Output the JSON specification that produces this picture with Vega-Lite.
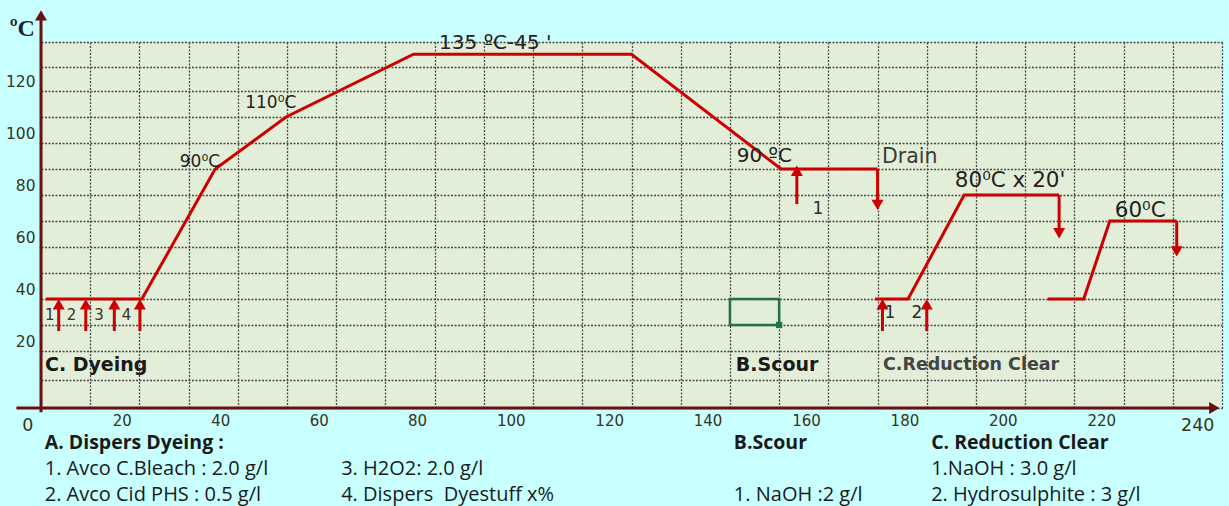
{
  "$schema": "https://vega.github.io/schema/vega-lite/v6.json",
  "width": 1181,
  "height": 366,
  "autosize": {"type": "none"},
  "padding": {"left": 41, "top": 42, "right": 7, "bottom": 98},
  "background": "#C8FFFF",
  "config": {"view": {"fill": "#E2EED8", "stroke": null}},
  "datasets": {
    "curve": [
      {"seg": "dye", "ord": 1, "t": 1, "v": 40},
      {"seg": "dye", "ord": 2, "t": 20.5, "v": 40},
      {"seg": "dye", "ord": 3, "t": 35.4, "v": 90},
      {"seg": "dye", "ord": 4, "t": 49.8, "v": 110},
      {"seg": "dye", "ord": 5, "t": 75.7, "v": 135},
      {"seg": "dye", "ord": 6, "t": 120, "v": 135},
      {"seg": "dye", "ord": 7, "t": 150.4, "v": 90},
      {"seg": "dye", "ord": 8, "t": 170, "v": 90},
      {"seg": "rc1", "ord": 1, "t": 169.5, "v": 40},
      {"seg": "rc1", "ord": 2, "t": 176.2, "v": 40},
      {"seg": "rc1", "ord": 3, "t": 187.6, "v": 80},
      {"seg": "rc1", "ord": 4, "t": 206.9, "v": 80},
      {"seg": "rc2", "ord": 1, "t": 204.6, "v": 40},
      {"seg": "rc2", "ord": 2, "t": 211.9, "v": 40},
      {"seg": "rc2", "ord": 3, "t": 217.2, "v": 70},
      {"seg": "rc2", "ord": 4, "t": 230.8, "v": 70}
    ],
    "arrows": [
      {"dir": "up", "t": 3.6, "v": 27.7, "v2": 40},
      {"dir": "up", "t": 9.1, "v": 27.7, "v2": 40},
      {"dir": "up", "t": 14.9, "v": 27.7, "v2": 40},
      {"dir": "up", "t": 20.1, "v": 27.7, "v2": 40},
      {"dir": "up", "t": 153.6, "v": 76.5, "v2": 91.3},
      {"dir": "up", "t": 171, "v": 27.7, "v2": 40},
      {"dir": "up", "t": 180, "v": 27.7, "v2": 40},
      {"dir": "down", "t": 170, "v": 90, "v2": 74.2},
      {"dir": "down", "t": 206.9, "v": 80, "v2": 63.3},
      {"dir": "down", "t": 230.8, "v": 70, "v2": 56.3}
    ],
    "notes": [
      {"kind": "tempL", "label": "135 ºC-45 '", "t": 80.9, "v": 139.5},
      {"kind": "tempS", "label": "110⁰C", "t": 41.5, "v": 115.5},
      {"kind": "tempS", "label": "90⁰C", "t": 28.2, "v": 92.6},
      {"kind": "tempL", "label": "90 ºC", "t": 141.4, "v": 95},
      {"kind": "drain", "label": "Drain", "t": 170.9, "v": 94.6},
      {"kind": "tempX", "label": "80⁰C x 20'", "t": 185.7, "v": 85.4},
      {"kind": "tempX", "label": "60⁰C", "t": 218.2, "v": 74},
      {"kind": "stepL", "label": "1", "t": 157.9, "v": 74.6},
      {"kind": "stepS", "label": "1", "t": 1.8, "v": 33.8},
      {"kind": "stepS", "label": "2", "t": 6.2, "v": 33.8},
      {"kind": "stepS", "label": "3", "t": 11.8, "v": 33.8},
      {"kind": "stepS", "label": "4", "t": 17.4, "v": 33.8},
      {"kind": "stepL", "label": "1", "t": 172.5, "v": 34.5},
      {"kind": "stepL", "label": "2", "t": 178.0, "v": 34.5},
      {"kind": "secB", "label": "C. Dyeing", "t": 0.8, "v": 15.1},
      {"kind": "secB", "label": "B.Scour", "t": 141.2, "v": 15.1},
      {"kind": "sec", "label": "C.Reduction Clear", "t": 171.1, "v": 15.1},
      {"kind": "unit", "label": "ºC", "t": -3.8, "v": 145.3},
      {"kind": "legB", "label": "A. Dispers Dyeing :", "t": 0.75, "v": -12.4},
      {"kind": "leg", "label": "1. Avco C.Bleach : 2.0 g/l", "t": 0.75, "v": -21.5},
      {"kind": "leg", "label": "2. Avco Cid PHS : 0.5 g/l", "t": 0.75, "v": -30.7},
      {"kind": "leg", "label": "3. H2O2: 2.0 g/l", "t": 61.0, "v": -21.5},
      {"kind": "leg", "label": "4. Dispers \u00a0Dyestuff x%", "t": 61.0, "v": -30.7},
      {"kind": "legB", "label": "B.Scour", "t": 140.8, "v": -12.4},
      {"kind": "leg", "label": "1. NaOH :2 g/l", "t": 140.8, "v": -30.7},
      {"kind": "legB", "label": "C. Reduction Clear", "t": 180.9, "v": -12.4},
      {"kind": "leg", "label": "1.NaOH : 3.0 g/l", "t": 180.9, "v": -21.5},
      {"kind": "leg", "label": "2. Hydrosulphite : 3 g/l", "t": 180.9, "v": -30.7}
    ]
  },
  "encoding": {
    "x": {
      "field": "t", "type": "quantitative",
      "scale": {"domain": [0, 240], "nice": false, "zero": false},
      "axis": {
        "values": [0,10,20,30,40,50,60,70,80,90,100,110,120,130,140,150,160,170,180,190,200,210,220,230,240],
        "labelExpr": "datum.value % 20 === 0 ? datum.label : ''",
        "title": null, "domain": false, "ticks": false,
        "grid": true, "gridColor": "#4a4a4a", "gridDash": [2, 1.5], "gridWidth": 1.3,
        "labelAlign": "right", "labelOffset": -8,
        "labelPadding": {"condition": {"test": "datum.value === 0 || datum.value === 240", "value": 8}, "value": 5},
        "labelFont": "DejaVu Sans",
        "labelFontSize": {"condition": {"test": "datum.value === 0 || datum.value === 240", "value": 17.5}, "value": 15},
        "labelColor": "#3a3320", "labelOverlap": false, "labelFlush": false
      }
    },
    "y": {
      "field": "v", "type": "quantitative",
      "scale": {"domain": [0, 20, 120, 140], "range": [366, 309, 49, 0], "nice": false, "zero": false},
      "axis": {
        "values": [0,10,20,30,40,50,60,70,80,90,100,110,120,130,140],
        "labelExpr": "datum.value >= 20 && datum.value <= 120 && datum.value % 20 === 0 ? datum.label : ''",
        "title": null, "domain": false, "ticks": false,
        "grid": true, "gridColor": "#4a4a4a", "gridDash": [2, 1.5], "gridWidth": 1.3,
        "labelOffset": -10, "labelPadding": 6,
        "labelFont": "DejaVu Sans", "labelFontSize": 15.5,
        "labelColor": "#3a3320", "labelOverlap": false, "labelFlush": false
      }
    }
  },
  "layer": [
    {
      "data": {"values": [{"t": 140, "t2": 150, "v": 30, "v2": 40}]},
      "mark": {"type": "rect", "fill": null, "fillOpacity": 0, "stroke": "#217346", "strokeWidth": 2.5},
      "encoding": {"x2": {"field": "t2"}, "y2": {"field": "v2"}}
    },
    {
      "data": {"values": [{"t": 150, "v": 30}]},
      "mark": {"type": "point", "shape": "square", "filled": true, "size": 40, "color": "#217346", "opacity": 1}
    },
    {
      "data": {"name": "curve"},
      "mark": {"type": "line", "color": "#CC0000", "strokeWidth": 3},
      "encoding": {"detail": {"field": "seg"}, "order": {"field": "ord"}}
    },
    {
      "data": {"name": "arrows"},
      "transform": [{"filter": "datum.dir === 'up'"}],
      "mark": {"type": "rule", "color": "#CC0000", "strokeWidth": 3, "y2Offset": 5},
      "encoding": {"y2": {"field": "v2"}}
    },
    {
      "data": {"name": "arrows"},
      "transform": [{"filter": "datum.dir === 'down'"}],
      "mark": {"type": "rule", "color": "#CC0000", "strokeWidth": 3, "y2Offset": -5},
      "encoding": {"y2": {"field": "v2"}}
    },
    {
      "data": {"name": "arrows"},
      "transform": [{"filter": "datum.dir === 'up'"}],
      "mark": {"type": "point", "shape": "triangle-up", "filled": true, "size": 144, "color": "#CC0000", "opacity": 1, "yOffset": 5.2},
      "encoding": {"y": {"field": "v2", "type": "quantitative"}}
    },
    {
      "data": {"name": "arrows"},
      "transform": [{"filter": "datum.dir === 'down'"}],
      "mark": {"type": "point", "shape": "triangle-down", "filled": true, "size": 144, "color": "#CC0000", "opacity": 1, "yOffset": -5.2},
      "encoding": {"y": {"field": "v2", "type": "quantitative"}}
    },
    {
      "data": {"values": [{"t": -5, "t2": 239.5, "v": 0}]},
      "mark": {"type": "rule", "color": "#6B1010", "strokeWidth": 3, "x2Offset": -6},
      "encoding": {"x2": {"field": "t2"}}
    },
    {
      "data": {"values": [{"t": 0, "v": -1.5, "v2": 153}]},
      "mark": {"type": "rule", "color": "#6B1010", "strokeWidth": 3, "y2Offset": 6},
      "encoding": {"y2": {"field": "v2"}}
    },
    {
      "data": {"values": [{"t": 239.5, "v": 0}]},
      "mark": {"type": "point", "shape": "triangle-right", "filled": true, "size": 144, "color": "#6B1010", "opacity": 1, "xOffset": -5.2}
    },
    {
      "data": {"values": [{"t": 0, "v": 153}]},
      "mark": {"type": "point", "shape": "triangle-up", "filled": true, "size": 144, "color": "#6B1010", "opacity": 1, "yOffset": 5.2}
    },
    {
      "data": {"name": "notes"},
      "transform": [{"filter": "datum.kind === 'tempL'"}],
      "mark": {"type": "text", "align": "left", "baseline": "middle", "font": "DejaVu Sans", "fontSize": 20, "color": "#222222"},
      "encoding": {"text": {"field": "label"}}
    },
    {
      "data": {"name": "notes"},
      "transform": [{"filter": "datum.kind === 'tempX'"}],
      "mark": {"type": "text", "align": "left", "baseline": "middle", "font": "DejaVu Sans", "fontSize": 21.5, "color": "#222222"},
      "encoding": {"text": {"field": "label"}}
    },
    {
      "data": {"name": "notes"},
      "transform": [{"filter": "datum.kind === 'tempS'"}],
      "mark": {"type": "text", "align": "left", "baseline": "middle", "font": "DejaVu Sans", "fontSize": 17, "color": "#222222"},
      "encoding": {"text": {"field": "label"}}
    },
    {
      "data": {"name": "notes"},
      "transform": [{"filter": "datum.kind === 'drain'"}],
      "mark": {"type": "text", "align": "left", "baseline": "middle", "font": "DejaVu Sans", "fontSize": 20.5, "color": "#3a3a3a"},
      "encoding": {"text": {"field": "label"}}
    },
    {
      "data": {"name": "notes"},
      "transform": [{"filter": "datum.kind === 'stepS'"}],
      "mark": {"type": "text", "align": "center", "baseline": "middle", "font": "DejaVu Sans", "fontSize": 15, "color": "#3a3320"},
      "encoding": {"text": {"field": "label"}}
    },
    {
      "data": {"name": "notes"},
      "transform": [{"filter": "datum.kind === 'stepL'"}],
      "mark": {"type": "text", "align": "center", "baseline": "middle", "font": "DejaVu Sans", "fontSize": 17, "color": "#2a2a30"},
      "encoding": {"text": {"field": "label"}}
    },
    {
      "data": {"name": "notes"},
      "transform": [{"filter": "datum.kind === 'secB'"}],
      "mark": {"type": "text", "align": "left", "baseline": "middle", "font": "DejaVu Sans", "fontWeight": "bold", "fontSize": 19, "color": "#1a1a1a"},
      "encoding": {"text": {"field": "label"}}
    },
    {
      "data": {"name": "notes"},
      "transform": [{"filter": "datum.kind === 'sec'"}],
      "mark": {"type": "text", "align": "left", "baseline": "middle", "font": "DejaVu Sans", "fontWeight": "bold", "fontSize": 17.5, "color": "#444444"},
      "encoding": {"text": {"field": "label"}}
    },
    {
      "data": {"name": "notes"},
      "transform": [{"filter": "datum.kind === 'unit'"}],
      "mark": {"type": "text", "align": "center", "baseline": "middle", "font": "Liberation Serif", "fontWeight": "bold", "fontSize": 24, "color": "#1f1f3a"},
      "encoding": {"text": {"field": "label"}}
    },
    {
      "data": {"name": "notes"},
      "transform": [{"filter": "datum.kind === 'legB'"}],
      "mark": {"type": "text", "align": "left", "baseline": "middle", "font": "Open Sans", "fontWeight": "bold", "fontSize": 19.5, "color": "#1a1a1a"},
      "encoding": {"text": {"field": "label"}}
    },
    {
      "data": {"name": "notes"},
      "transform": [{"filter": "datum.kind === 'leg'"}],
      "mark": {"type": "text", "align": "left", "baseline": "middle", "font": "Open Sans", "fontSize": 20, "color": "#1a1a1a"},
      "encoding": {"text": {"field": "label"}}
    }
  ]
}
